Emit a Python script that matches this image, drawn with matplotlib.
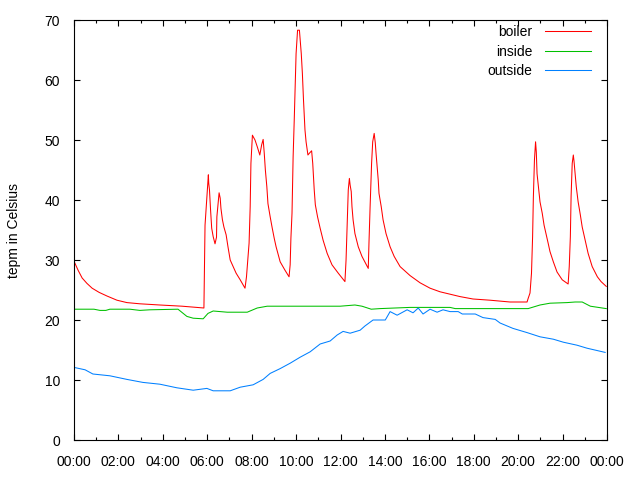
import matplotlib
matplotlib.use("Agg")
import matplotlib.pyplot as plt
from matplotlib.ticker import MultipleLocator, FuncFormatter

plt.rcParams["font.family"] = ["Liberation Sans", "DejaVu Sans"]
plt.rcParams["font.size"] = 10

# boiler temperature, time of day as HH:MM
boiler_time = [
    "00:00", "00:11", "00:22", "00:35", "00:49", "01:08", "01:29", "01:56",
    "02:23", "02:58", "03:52", "04:52", "05:51", "05:54", "06:00", "06:03",
    "06:04", "06:06", "06:09", "06:12", "06:16", "06:21", "06:25", "06:26",
    "06:30", "06:32", "06:35", "06:37", "06:41", "06:45", "06:51", "06:56",
    "07:02", "07:10", "07:18", "07:29", "07:42", "07:46", "07:53", "07:56",
    "07:58", "08:02", "08:09", "08:15", "08:22", "08:27", "08:31", "08:34",
    "08:37", "08:41", "08:44", "08:50", "08:55", "09:01", "09:06", "09:17",
    "09:30", "09:41", "09:44", "09:46", "09:49", "09:52", "09:55", "10:00",
    "10:04", "10:09", "10:14", "10:17", "10:20", "10:24", "10:27", "10:32",
    "10:36", "10:42", "10:45", "10:49", "10:52", "10:58", "11:05", "11:13",
    "11:24", "11:37", "11:54", "12:12", "12:15", "12:18", "12:21", "12:24",
    "12:26", "12:29", "12:31", "12:34", "12:39", "12:48", "12:58", "13:15",
    "13:17", "13:20", "13:24", "13:27", "13:31", "13:34", "13:36", "13:39",
    "13:42", "13:44", "13:50", "13:55", "14:03", "14:14", "14:25", "14:41",
    "15:08", "15:35", "16:02", "16:29", "16:56", "17:23", "17:58", "18:44",
    "19:38", "20:24", "20:27", "20:32", "20:36", "20:39", "20:41", "20:44",
    "20:47", "20:49", "20:51", "20:55", "20:59", "21:05", "21:10", "21:16",
    "21:21", "21:26", "21:35", "21:45", "21:59", "22:15", "22:18", "22:21",
    "22:23", "22:26", "22:29", "22:31", "22:34", "22:37", "22:42", "22:48",
    "22:53", "23:01", "23:09", "23:20", "23:34", "23:44", "23:58",
]
boiler = [
    29.8, 28.3, 27.0, 26.1, 25.3, 24.6, 24.0, 23.3,
    22.9, 22.7, 22.5, 22.3, 22.0, 35.8, 41.4, 44.2,
    42.8, 41.7, 38.3, 35.3, 33.9, 32.7, 33.8, 37.2,
    40.0, 41.2, 40.3, 38.6, 36.7, 35.5, 34.2, 32.2,
    30.0, 28.9, 27.8, 26.7, 25.3, 27.2, 32.8, 38.9,
    46.1, 50.8, 50.0, 48.9, 47.5, 49.2, 50.1, 47.8,
    45.0, 42.2, 39.4, 37.2, 35.5, 33.6, 32.2, 29.7,
    28.3, 27.2, 29.2, 33.6, 37.8, 47.2, 53.3, 64.4,
    68.3, 68.3, 64.4, 61.1, 56.7, 51.7, 49.7, 47.5,
    47.8, 48.2, 46.1, 41.7, 39.2, 37.2, 35.3, 33.3,
    31.1, 29.2, 27.8, 26.4, 30.0, 36.1, 41.7, 43.6,
    42.5, 41.4, 38.9, 36.7, 34.4, 32.2, 30.6, 28.6,
    33.0, 38.9, 46.1, 49.7, 51.1, 49.5, 47.8, 45.6,
    43.3, 41.1, 38.9, 36.7, 34.4, 32.2, 30.6, 28.9,
    27.4, 26.2, 25.3, 24.7, 24.3, 23.9, 23.5, 23.3,
    23.0, 23.0, 23.6, 24.5, 27.8, 33.9, 40.3, 46.7,
    49.7, 48.0, 44.4, 42.0, 39.7, 37.8, 35.8, 34.2,
    32.8, 31.4, 29.7, 28.0, 26.7, 26.0, 28.9, 33.9,
    40.6, 46.1, 47.5, 46.4, 44.4, 42.2, 39.7, 37.5,
    35.5, 33.3, 31.1, 28.9, 27.2, 26.4, 25.6,
]

inside_time = [
    "00:00", "00:54", "01:10", "01:26", "01:37", "02:31", "02:58", "03:25",
    "04:41", "05:05", "05:22", "05:49", "06:02", "06:16", "06:54", "07:48",
    "08:15", "08:42", "10:11", "11:59", "12:39", "12:58", "13:23", "13:47",
    "15:08", "16:02", "16:56", "17:10", "18:17", "20:27", "20:59", "21:26",
    "22:12", "22:34", "22:53", "23:15", "23:58",
]
inside = [
    21.8, 21.8, 21.6, 21.6, 21.8, 21.8, 21.6, 21.7,
    21.8, 20.6, 20.3, 20.2, 21.1, 21.5, 21.3, 21.3,
    22.0, 22.3, 22.3, 22.3, 22.5, 22.3, 21.8, 21.9,
    22.1, 22.1, 22.1, 21.9, 21.9, 21.9, 22.5, 22.8,
    22.9, 23.0, 23.0, 22.3, 21.9,
]

outside_time = [
    "00:00", "00:30", "00:51", "01:37", "02:23", "03:06", "03:52", "04:38",
    "05:22", "05:59", "06:16", "07:02", "07:29", "08:04", "08:31", "08:50",
    "09:17", "09:44", "10:11", "10:38", "11:05", "11:32", "11:51", "12:07",
    "12:26", "12:53", "13:06", "13:28", "14:01", "14:14", "14:33", "15:00",
    "15:16", "15:30", "15:43", "16:02", "16:21", "16:37", "16:56", "17:18",
    "17:29", "18:04", "18:25", "18:58", "19:11", "19:46", "20:24", "20:59",
    "21:35", "22:02", "22:39", "23:06", "23:34", "23:55",
]
outside = [
    12.1, 11.7, 11.0, 10.7, 10.1, 9.6, 9.3, 8.7,
    8.3, 8.6, 8.2, 8.2, 8.8, 9.2, 10.1, 11.1,
    11.9, 12.8, 13.8, 14.7, 16.0, 16.5, 17.5, 18.1,
    17.8, 18.3, 19.0, 20.0, 20.0, 21.4, 20.8, 21.7,
    21.2, 22.0, 21.0, 21.8, 21.3, 21.7, 21.4, 21.4,
    21.0, 21.0, 20.4, 20.1, 19.5, 18.6, 17.9, 17.2,
    16.8, 16.3, 15.8, 15.3, 14.9, 14.6,
]

series = [
    ("boiler", boiler_time, boiler, "#ff0000"),
    ("inside", inside_time, inside, "#00c000"),
    ("outside", outside_time, outside, "#0080ff"),
]


def to_minutes(t):
    h, m = t.split(":")
    return int(h) * 60 + int(m)


fig = plt.figure(figsize=(6.4, 4.8), dpi=100)
ax = fig.add_axes([74 / 640, 40 / 480, 533 / 640, 420 / 480])

for name, times, values, color in series:
    ax.plot([to_minutes(t) for t in times], values, color=color, lw=0.75, label=name)

ax.set_xlim(0, 1440)
ax.set_ylim(0, 70)
ax.xaxis.set_major_locator(MultipleLocator(120))
ax.xaxis.set_minor_locator(MultipleLocator(60))
ax.xaxis.set_major_formatter(
    FuncFormatter(lambda v, p: "%02d:00" % (int(round(v / 60)) % 24))
)
ax.yaxis.set_major_locator(MultipleLocator(10))

ax.tick_params(which="both", direction="in", top=True, right=True, width=0.8)
ax.tick_params(which="major", length=4.5, labelsize=10, colors="black")
ax.tick_params(axis="y", which="major", pad=10)
ax.tick_params(axis="x", which="major", pad=11)
ax.tick_params(which="minor", length=2.5)
for s in ax.spines.values():
    s.set_linewidth(0.8)

ax.set_ylabel("tepm in Celsius", fontsize=10, labelpad=17)

ax.legend(
    loc="upper right",
    bbox_to_anchor=(591 / 640, 1 - 25 / 480),
    bbox_transform=fig.transFigure,
    frameon=False,
    markerfirst=False,
    handlelength=3.3,
    handletextpad=0.9,
    labelspacing=0.4,
    borderpad=0,
    borderaxespad=0,
    fontsize=10,
)

fig.savefig("out.png", dpi=100)
